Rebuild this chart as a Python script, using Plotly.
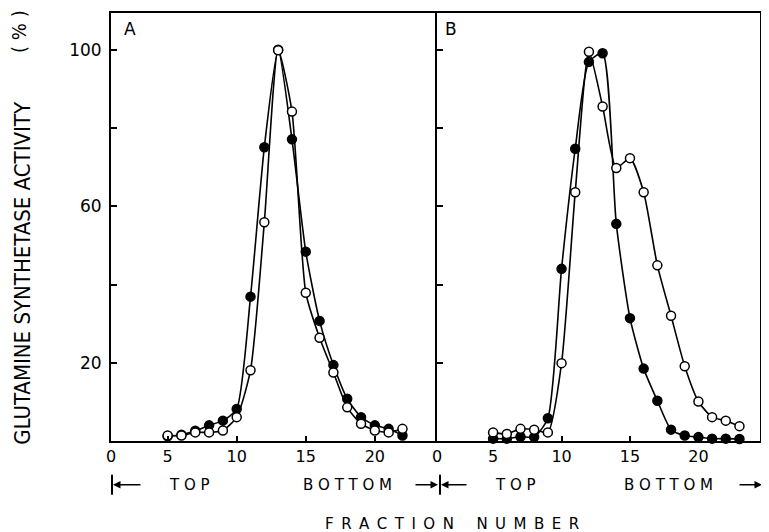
import plotly.graph_objects as go

# ---- data ----
fractions_A = [5, 6, 7, 8, 9, 10, 11, 12, 13, 14, 15, 16, 17, 18, 19, 20, 21, 22]
open_A = [1.4, 1.4, 2.2, 2.2, 2.7, 6.1, 18.1, 55.9, 99.9, 84.2, 37.9, 26.4, 17.5, 8.6, 4.4, 2.7, 2.2, 3.1]
filled_A = [1.2, 1.6, 2.6, 4.0, 5.2, 8.2, 36.9, 75.1, 100.0, 77.1, 48.4, 30.7, 19.4, 10.8, 6.1, 4.0, 3.1, 1.4]

fractions_B = [5, 6, 7, 8, 9, 10, 11, 12, 13, 14, 15, 16, 17, 18, 19, 20, 21, 22, 23]
open_B = [2.2, 1.8, 3.1, 2.9, 2.2, 19.9, 63.6, 99.5, 85.5, 69.8, 72.3, 63.6, 44.9, 32.0, 19.1, 10.1, 6.1, 5.2, 3.8]
filled_B = [0.6, 0.6, 1.1, 1.0, 5.8, 44.0, 74.7, 96.9, 99.1, 55.5, 31.4, 18.5, 10.3, 2.9, 1.4, 1.0, 0.6, 0.6, 0.5]

x_ticks = [5, 10, 15, 20]
x_tick_text = ["5", "10", "15", "20"]
y_ticks = [20, 40, 60, 80, 100]
y_tick_text = ["20", "", "60", "", "100"]

panel_labels = ["A", "B"]
y_title = "GLUTAMINE SYNTHETASE ACTIVITY"
y_unit = "( % )"
x_title = "FRACTION NUMBER"
top_label = "TOP"
bottom_label = "BOTTOM"

# ---- layout geometry (page body has an 8px margin) ----
OFF = 8
W, H = 769 - OFF, 532 - OFF
ML, MR, MT, MB = 111 - OFF, 9, 11 - OFF, 91
PW = W - ML - MR
PH = H - MT - MB
X_MIN, X_MAX = 0.9, 24.5
Y_MAX = 109.4
split = (437 - 111) / PW


def px(xpix):
    return (xpix - OFF - ML) / PW


def py(ypix):
    return (H - MB - (ypix - OFF)) / PH


LINE = "black"
NUM_FONT = "DejaVu Sans"
TITLE_FONT = "Liberation Sans Narrow, DejaVu Sans Condensed, Liberation Sans, sans-serif"

fig = go.Figure()


def add_series(x, y, xa, ya, filled):
    fig.add_trace(go.Scatter(
        x=x, y=y, xaxis=xa, yaxis=ya, mode="lines+markers",
        line=dict(color=LINE, width=1.6, shape="spline", smoothing=0.6),
        marker=dict(symbol="circle", size=9,
                    color=LINE if filled else "white",
                    line=dict(color=LINE, width=1.5)),
        cliponaxis=False, showlegend=False, hoverinfo="skip"))


add_series(fractions_A, filled_A, "x", "y", True)
add_series(fractions_A, open_A, "x", "y", False)
add_series(fractions_B, filled_B, "x2", "y2", True)
add_series(fractions_B, open_B, "x2", "y2", False)

xcommon = dict(range=[X_MIN, X_MAX], showgrid=False, zeroline=False,
               showline=True, linecolor=LINE, linewidth=2, mirror=True,
               ticks="inside", ticklen=5, tickwidth=1.5, tickcolor=LINE,
               tickvals=[X_MIN] + x_ticks, ticktext=["0"] + x_tick_text,
               tickfont=dict(family=NUM_FONT, size=16, color="black"))
ycommon = dict(range=[0, Y_MAX], showgrid=False, zeroline=False,
               showline=True, linecolor=LINE, linewidth=2,
               ticks="inside", ticklen=6, tickwidth=1.5, tickcolor=LINE,
               tickvals=y_ticks, domain=[0, 1])

fig.update_layout(
    width=W, height=H,
    margin=dict(l=ML, r=MR, t=MT, b=MB, pad=0),
    paper_bgcolor="white", plot_bgcolor="white",
    xaxis=dict(domain=[0, split], anchor="y", **xcommon),
    xaxis2=dict(domain=[split, 1], anchor="y2", **xcommon),
    yaxis=dict(anchor="x", mirror=False, ticktext=y_tick_text, ticklabelstandoff=4,
               tickfont=dict(family=NUM_FONT, size=17, color="black"), **ycommon),
    yaxis2=dict(anchor="x2", mirror=True, showticklabels=False, **ycommon),
)

ann = []
# panel letters
ann.append(dict(x=px(122), y=py(27), xref="paper", yref="paper", text=panel_labels[0],
                showarrow=False, xanchor="left", yanchor="middle",
                font=dict(family=NUM_FONT, size=17, color="black")))
ann.append(dict(x=px(443), y=py(27), xref="paper", yref="paper", text=panel_labels[1],
                showarrow=False, xanchor="left", yanchor="middle",
                font=dict(family=NUM_FONT, size=17, color="black")))
# y title
ann.append(dict(x=px(23), y=py(272), xref="paper", yref="paper", text=y_title,
                textangle=-90, showarrow=False, xanchor="center", yanchor="middle",
                font=dict(family=TITLE_FONT, size=22, color="black")))
ann.append(dict(x=px(19), y=py(30), xref="paper", yref="paper", text=y_unit,
                textangle=-90, showarrow=False, xanchor="center", yanchor="middle",
                font=dict(family=TITLE_FONT, size=20, color="black")))


def spaced(s, sep=" "):
    return sep.join(list(s))


words = x_title.split(" ")
x_title_spaced = "\u2002\u2002\u2002".join(spaced(w, "\u2002") for w in words)
ann.append(dict(x=px(452), y=py(524), xref="paper", yref="paper",
                text=x_title_spaced,
                showarrow=False, xanchor="center", yanchor="middle",
                font=dict(family=NUM_FONT, size=15, color="black")))

# TOP / BOTTOM labels
for cx, txt in [(189, top_label), (347, bottom_label), (515, top_label), (668, bottom_label)]:
    ann.append(dict(x=px(cx), y=py(485), xref="paper", yref="paper", text=spaced(txt),
                    showarrow=False, xanchor="center", yanchor="middle",
                    font=dict(family=NUM_FONT, size=15, color="black")))

# arrows
for head, tail in [(113, 142), (438, 414), (441, 468), (762, 738)]:
    ann.append(dict(x=px(head), y=py(485), xref="paper", yref="paper", text="",
                    showarrow=True, ax=tail - head, ay=0, axref="pixel", ayref="pixel",
                    arrowhead=2, arrowsize=1, arrowwidth=1.5, arrowcolor=LINE, standoff=0))
fig.update_layout(annotations=ann)

shapes = []
for bx in [112, 440, 763]:
    shapes.append(dict(type="line", xref="paper", yref="paper",
                       x0=px(bx), x1=px(bx), y0=py(475), y1=py(495),
                       line=dict(color=LINE, width=2)))
fig.update_layout(shapes=shapes)

fig.write_html("out.html")
